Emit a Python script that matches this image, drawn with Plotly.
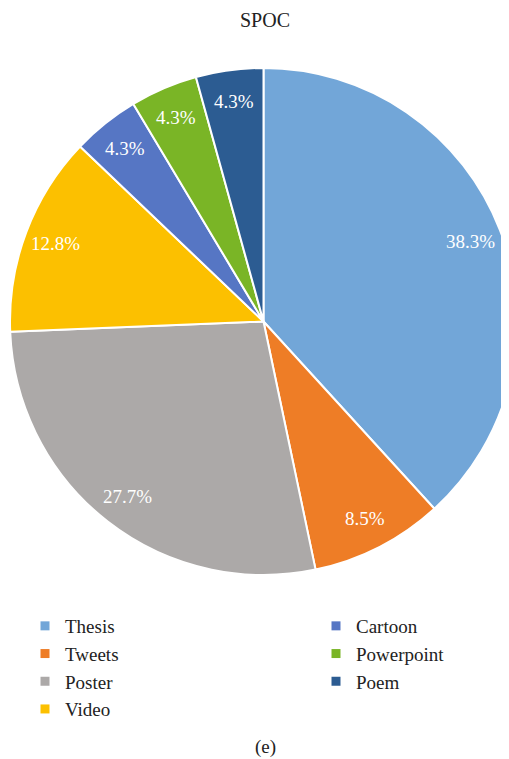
import math
import plotly.graph_objects as go

labels = ["Thesis", "Tweets", "Poster", "Video", "Cartoon", "Powerpoint", "Poem"]
values = [38.3, 8.5, 27.7, 12.8, 4.3, 4.3, 4.3]
colors = ["#72A6D8", "#EE7D26", "#ACA9A8", "#FCC000", "#5676C4", "#7AB526", "#2C5C92"]
legend_col1 = ["Thesis", "Tweets", "Poster", "Video"]
legend_col2 = ["Cartoon", "Powerpoint", "Poem"]
title_text = "SPOC"
caption_text = "(e)"

FONT = "Liberation Serif, Times New Roman, serif"
W, H = 509, 759
ML = 2
PIE_TOP, PIE_BOT = 60, 567  # figure pixels for pie domain

fig = go.Figure()
fig.add_trace(go.Pie(
    labels=labels, values=values,
    marker=dict(colors=colors, line=dict(color="white", width=2)),
    sort=False, direction="clockwise", rotation=0,
    textinfo="none",
    hoverinfo="label+value",
    showlegend=False,
    domain=dict(x=[0, 1], y=[1 - PIE_BOT / H, 1 - PIE_TOP / H]),
))

# slice labels placed along each slice's mid-angle (derived from the values)
cx = (ML + W) / 2
cy = (PIE_TOP + PIE_BOT) / 2
rad = (PIE_BOT - PIE_TOP) / 2
total = sum(values)
annotations = []
cum = 0.0
for v in values:
    mid = (cum + v / 2) / total * 2 * math.pi
    cum += v
    px = cx + 0.875 * rad * math.sin(mid)
    py = cy - 0.875 * rad * math.cos(mid)
    annotations.append(dict(text=f"{v:.1f}%", xref="paper", yref="paper",
                            x=(px - ML) / (W - ML), y=1 - py / H,
                            xanchor="center", yanchor="middle", showarrow=False,
                            font=dict(family=FONT, size=19, color="white")))

for name in labels:
    leg = "legend" if name in legend_col1 else "legend2"
    fig.add_trace(go.Scatter(
        x=[None], y=[None], mode="markers", name=name,
        marker=dict(symbol="square", size=9, color=colors[labels.index(name)]),
        legend=leg, showlegend=True,
    ))

annotations.append(dict(text=caption_text, xref="paper", yref="paper",
                        x=(257 - ML) / (W - ML), y=1 - 739 / H, xanchor="center", yanchor="middle",
                        showarrow=False, font=dict(family=FONT, size=19, color="#222222")))

fig.update_layout(
    width=W, height=H,
    margin=dict(l=ML, r=0, t=0, b=0),
    paper_bgcolor="white", plot_bgcolor="white",
    font=dict(family=FONT, color="#222222"),
    title=dict(text=title_text, x=257 / W, xref="container", y=1 - 12 / H,
               yref="container", yanchor="middle", xanchor="center",
               font=dict(family=FONT, size=20, color="#222222")),
    xaxis=dict(visible=False), yaxis=dict(visible=False),
    legend=dict(x=(17 - ML) / (W - ML), y=1 - 599 / H, xanchor="left", yanchor="top",
                font=dict(family=FONT, size=19, color="#222222"),
                bgcolor="rgba(0,0,0,0)", tracegroupgap=0),
    legend2=dict(x=(308 - ML) / (W - ML), y=1 - 599 / H, xanchor="left", yanchor="top",
                 font=dict(family=FONT, size=19, color="#222222"),
                 bgcolor="rgba(0,0,0,0)", tracegroupgap=0),
    annotations=annotations,
)

fig.write_html("out.html")
